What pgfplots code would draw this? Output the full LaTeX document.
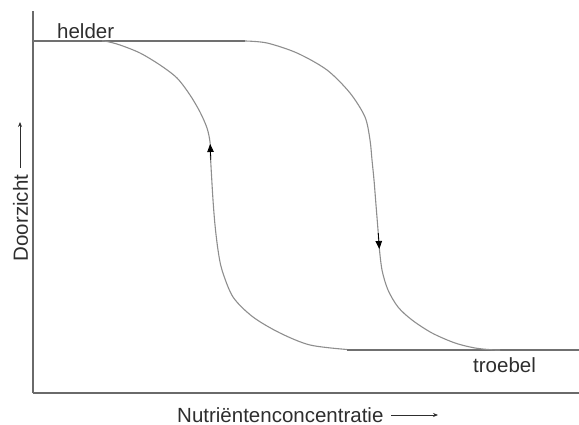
\documentclass[border=0pt]{standalone}
\usepackage{pgfplots}
\pgfplotsset{compat=1.18}
\usepackage{fontspec}
\setmainfont{Liberation Sans}
\usetikzlibrary{arrows.meta}
\definecolor{axgray}{HTML}{6A6A6A}
\definecolor{lngray}{HTML}{707070}
\definecolor{cvgray}{HTML}{8E8E8E}
\definecolor{txt}{HTML}{2E2E2E}
\begin{document}
\begin{tikzpicture}
\begin{axis}[
  scale only axis, width=546bp, height=382bp,
  xmin=33, xmax=579, ymin=32, ymax=414,
  axis x line*=bottom, axis y line*=left,
  axis line style={draw=axgray, line width=1.5bp},
  xtick=\empty, ytick=\empty,
  clip=false,
]
% top (clear) branch
\addplot[lngray, line width=1.3bp] coordinates {(33,384) (245,384)};
% bottom (turbid) branch
\addplot[lngray, line width=1.3bp] coordinates {(347,75) (579,75)};
% left curve (recovery, upward)
\addplot[cvgray, line width=1.1bp, smooth, tension=0.5] coordinates {
 (347,75.5) (310,80) (280,92) (253,108) (233,128) (222,155) (218,175)
 (215,200) (213,225) (211.5,250) (210.5,268) (210,283) (207,297) (200,313) (190,330)
 (177,347) (160,360) (140,372) (120,380) (107,383.5) (102,384)};
% right curve (collapse, downward)
\addplot[cvgray, line width=1.1bp, smooth, tension=0.5] coordinates {
 (245,384) (267,382) (297,372) (327,355) (350,332) (365,308) (370,285) (372,265)
 (374,245) (376,220) (378,195) (379,180) (382,155) (388,135) (398,118) (412,105)
 (432,92) (455,82) (475,77) (492,75.2) (500,75)};
% direction arrows
\addplot[black, line width=0.8bp, -{Triangle[length=8bp,width=6.5bp]}] coordinates {(210.8,265) (210.2,281)};
\addplot[black, line width=0.8bp, -{Triangle[length=8bp,width=6.5bp]}] coordinates {(378.3,192) (379.3,176)};
% labels
\node[anchor=base west, text=txt, inner sep=0pt, font=\fontsize{20.5bp}{24bp}\selectfont] at (axis cs:57,386) {helder};
\node[anchor=base west, text=txt, inner sep=0pt, font=\fontsize{20.5bp}{24bp}\selectfont] at (axis cs:473,53) {troebel};
\node[anchor=base west, text=txt, inner sep=0pt, font=\fontsize{20.5bp}{24bp}\selectfont] at (axis cs:177,3) {Nutriëntenconcentratie};
\draw[txt, line width=0.9bp, -{Stealth[length=5bp,width=4bp]}] (axis cs:391,10) -- (axis cs:438,10);
\node[anchor=base, rotate=90, text=txt, inner sep=0pt, font=\fontsize{20.5bp}{24bp}\selectfont] at (axis cs:28,207) {Doorzicht};
\draw[txt, line width=0.9bp, -{Stealth[length=5bp,width=4bp]}] (axis cs:20,257) -- (axis cs:20,303);
\coordinate (bl) at (axis cs:0,0);
\coordinate (tr) at (axis cs:579,425);
\end{axis}
\pgfresetboundingbox
\path (bl) rectangle (tr);
\end{tikzpicture}
\end{document}
